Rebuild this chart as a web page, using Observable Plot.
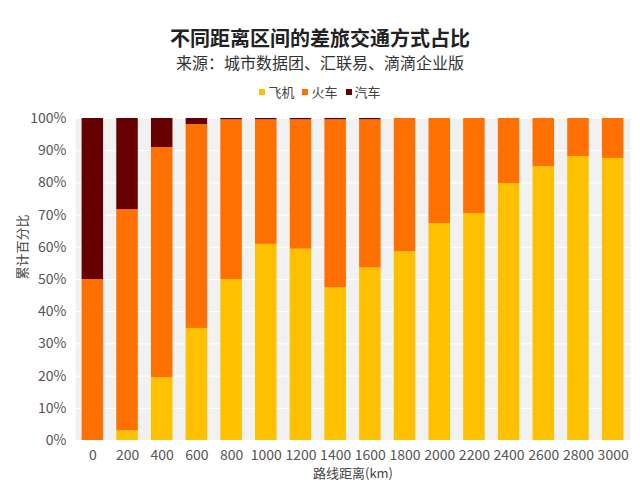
<!DOCTYPE html>
<html>
<head>
<meta charset="utf-8">
<script src="https://cdn.jsdelivr.net/npm/d3@7"></script>
<script src="https://cdn.jsdelivr.net/npm/@observablehq/plot@0.6"></script>
<style>
  html, body { margin: 0; padding: 0; background: #fff; }
  body { width: 640px; height: 489px; overflow: hidden; font-family: "Noto Sans CJK SC", "Noto Sans", sans-serif; }
  #title { position: absolute; top: 24px; left: 0; width: 640px; text-align: center; font-size: 20px; font-weight: bold; color: #222; line-height: 28px; }
  #subtitle { position: absolute; top: 51px; left: 0; width: 640px; text-align: center; font-size: 16px; color: #333; line-height: 22px; }
  #legend { position: absolute; top: 83px; left: 0; width: 640px; text-align: center; font-size: 13px; color: #444; line-height: 18px; }
  #legend span.item { margin: 0 4px; }
  #legend span.sw { display: inline-block; width: 6px; height: 6px; margin-right: 3px; vertical-align: middle; position: relative; top: -1px; }
  #chart { position: absolute; top: 105px; left: 0; }
</style>
</head>
<body>
<div id="title">不同距离区间的差旅交通方式占比</div>
<div id="subtitle">来源：城市数据团、汇联易、滴滴企业版</div>
<div id="legend"></div>
<div id="chart"></div>
<script>
const categories = ["0","200","400","600","800","1000","1200","1400","1600","1800","2000","2200","2400","2600","2800","3000"];
const seriesNames = ["飞机","火车","汽车"];
const seriesColors = ["#FFC000","#FF7000","#660000"];
const plane = [0, 3, 19.5, 34.8, 50, 60.9, 59.4, 47.4, 53.6, 58.6, 67.4, 70.5, 79.8, 85, 88.2, 87.6];
const car   = [50, 28.3, 9, 1.9, 0.4, 0.4, 0.4, 0.4, 0.4, 0, 0, 0, 0, 0, 0, 0];
const train = plane.map((p, i) => 100 - p - car[i]);
const yTicks = [0,10,20,30,40,50,60,70,80,90,100];

const seriesValues = [plane, train, car];
const data = [];
categories.forEach((c, i) => {
  seriesNames.forEach((s, j) => {
    data.push({dist: c, type: s, value: seriesValues[j][i]});
  });
});

const legend = document.getElementById("legend");
seriesNames.forEach((s, j) => {
  const item = document.createElement("span");
  item.className = "item";
  item.innerHTML = `<span class="sw" style="background:${seriesColors[j]}"></span>${s}`;
  legend.appendChild(item);
});

const chart = Plot.plot({
  width: 640,
  height: 384,
  marginLeft: 75,
  marginRight: 10,
  marginTop: 13,
  marginBottom: 49,
  style: {fontFamily: "'Noto Sans CJK SC', 'Noto Sans', sans-serif", fontSize: "14px", color: "#555", background: "transparent"},
  x: {domain: categories, paddingInner: 0.38, paddingOuter: 0.19, round: false, label: null},
  y: {domain: [0, 100], ticks: yTicks, tickFormat: d => d + "%", label: null},
  color: {domain: seriesNames, range: seriesColors},
  marks: [
    Plot.frame({fill: "#f1f1f1", stroke: null}),
    Plot.gridY(yTicks, {stroke: "#ffffff", strokeOpacity: 1, strokeWidth: 1.2}),
    Plot.barY(data, {x: "dist", y: "value", fill: "type", order: seriesNames}),
    Plot.axisX({tickSize: 0, tickPadding: 10, label: null, fontSize: 14}),
    Plot.axisY({ticks: yTicks, tickFormat: d => d + "%", tickSize: 0, tickPadding: 9, label: null, fontSize: 14}),
    Plot.text(["路线距离(km)"], {frameAnchor: "bottom", dy: 37, fontSize: 13, fill: "#444"}),
    Plot.text(["累计百分比"], {frameAnchor: "left", dx: -53, rotate: -90, fontSize: 13, fill: "#444"})
  ]
});
document.getElementById("chart").appendChild(chart);
</script>
</body>
</html>
